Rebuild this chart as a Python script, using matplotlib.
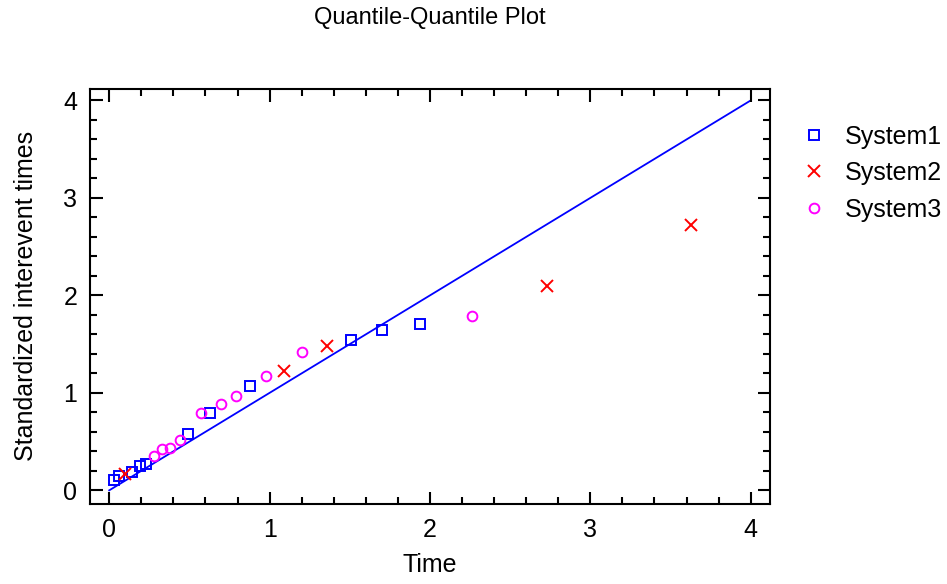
import matplotlib
matplotlib.use('Agg')
import matplotlib.pyplot as plt
from matplotlib.ticker import MultipleLocator

plt.rcParams['font.family'] = ['Liberation Sans', 'DejaVu Sans']

# quantile pairs
sys1_x = [0.03, 0.06, 0.14, 0.19, 0.23, 0.49, 0.63, 0.88, 1.51, 1.70, 1.94]
sys1_y = [0.11, 0.15, 0.19, 0.25, 0.27, 0.58, 0.79, 1.07, 1.54, 1.65, 1.71]
sys2_x = [0.10, 1.09, 1.36, 2.73, 3.63]
sys2_y = [0.165, 1.22, 1.48, 2.10, 2.72]
sys3_x = [0.28, 0.33, 0.38, 0.44, 0.57, 0.70, 0.79, 0.98, 1.20, 2.26]
sys3_y = [0.35, 0.42, 0.435, 0.52, 0.79, 0.89, 0.97, 1.175, 1.42, 1.79]
ref_line = [0, 4]

fig = plt.figure(figsize=(9.47, 5.84), dpi=100)
ax = fig.add_axes([0.095, 0.137, 0.718, 0.711])

ax.plot(ref_line, ref_line, color='#0000ff', linewidth=1.3, zorder=1)
ax.plot(sys1_x, sys1_y, linestyle='None', marker='s', markersize=7,
        markerfacecolor='none', markeredgecolor='#0000ff', markeredgewidth=1.4,
        label='System1')
ax.plot(sys2_x, sys2_y, linestyle='None', marker='x', markersize=9,
        color='#ff0000', markeredgewidth=1.4, label='System2')
ax.plot(sys3_x, sys3_y, linestyle='None', marker='o', markersize=7,
        markerfacecolor='none', markeredgecolor='#ff00ff', markeredgewidth=1.4,
        label='System3')

ax.set_xlim(-0.12, 4.12)
ax.set_ylim(-0.14, 4.12)
ax.xaxis.set_major_locator(MultipleLocator(1))
ax.xaxis.set_minor_locator(MultipleLocator(0.2))
ax.yaxis.set_major_locator(MultipleLocator(1))
ax.yaxis.set_minor_locator(MultipleLocator(0.2))
ax.tick_params(which='both', direction='in', top=True, right=True,
               width=1.5, labelsize=18)
ax.tick_params(axis='x', which='major', pad=10)
ax.tick_params(axis='y', which='major', pad=9)
ax.tick_params(which='major', length=9)
ax.tick_params(which='minor', length=5)
for s in ax.spines.values():
    s.set_linewidth(1.5)

ax.set_xlabel('Time', fontsize=18, labelpad=8)
ax.set_ylabel('Standardized interevent times', fontsize=18, labelpad=18)
fig.text(0.454, 0.97, 'Quantile-Quantile Plot', fontsize=17,
         ha='center', va='center')

fig.legend(loc='upper left', bbox_to_anchor=(0.823, 0.825), frameon=False,
           fontsize=18, handletextpad=0.7, labelspacing=0.5,
           handlelength=1.0)

fig.savefig('out.png', dpi=100)
